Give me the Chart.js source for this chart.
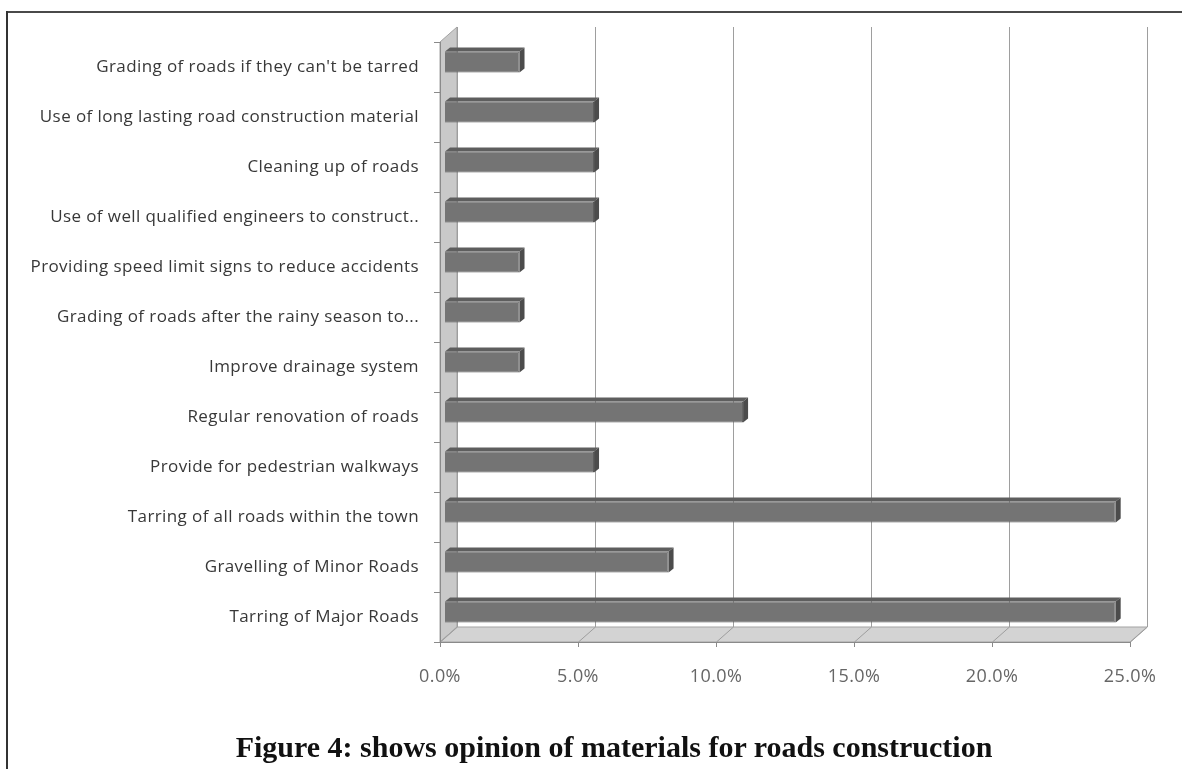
<!DOCTYPE html>
<html>
<head>
<meta charset="utf-8">
<script src="https://cdn.jsdelivr.net/npm/chart.js@4.4.0/dist/chart.umd.min.js"></script>
<style>
  html, body { margin: 0; padding: 0; background: #fff; }
  #wrap { position: relative; width: 1182px; height: 769px; overflow: hidden; background: #fff; }
  #chart { position: absolute; left: 0; top: 0; }
  .rule-top { position: absolute; left: 6px; top: 11px; width: 1176px; height: 2px; background: #4a4a4a; }
  .rule-left { position: absolute; left: 6px; top: 11px; width: 2px; height: 758px; background: #333; }
  #caption {
    position: absolute; left: 614px; top: 731px; transform: translateX(-50%);
    white-space: nowrap; font-family: "Liberation Serif", "Times New Roman", serif;
    font-weight: bold; font-size: 30px; line-height: 32px; color: #111;
  }
</style>
</head>
<body>
<div id="wrap">
  <canvas id="chart" width="1182" height="769"></canvas>
  <div class="rule-top"></div>
  <div class="rule-left"></div>
  <div id="caption">Figure 4: shows opinion of materials for roads construction</div>
</div>
<script>
// Suggestions listed from the top of the chart to the bottom
const categories = [
  "Grading of roads if they can't be tarred",
  "Use of long lasting road construction material",
  "Cleaning up of roads",
  "Use of well qualified engineers to construct..",
  "Providing speed limit signs to reduce accidents",
  "Grading of roads after the rainy season to...",
  "Improve drainage system",
  "Regular renovation of roads",
  "Provide for pedestrian walkways",
  "Tarring of all roads within the town",
  "Gravelling of Minor Roads",
  "Tarring of Major Roads"
];

// Share of respondents, in percent
const shares = [2.7, 5.4, 5.4, 5.4, 2.7, 2.7, 2.7, 10.8, 5.4, 24.3, 8.1, 24.3];

// Value axis ticks
const axisMin = 0;
const axisMax = 25;
const axisStep = 5;

// Depth of the 3-D box (back wall offset) and of the bars inside it
const DEPTH_X = 17, DEPTH_Y = -15;
const BAR_SHIFT_X = 5, BAR_SHIFT_Y = -5;
const BAR_DEPTH_X = 5, BAR_DEPTH_Y = -4;

const box3d = {
  id: 'box3d',
  beforeDraw(chart) {
    // slightly open lettering for all axis text
    chart.ctx.letterSpacing = '0.4px';
  },
  beforeDatasetsDraw(chart) {
    const { ctx, chartArea: a, scales: { x, y } } = chart;
    const x0 = x.getPixelForValue(axisMin);
    const x1 = x.getPixelForValue(axisMax);
    const top = a.top, bot = a.bottom;

    ctx.save();
    ctx.lineWidth = 1;

    // left side wall
    ctx.beginPath();
    ctx.moveTo(x0, top);
    ctx.lineTo(x0 + DEPTH_X, top + DEPTH_Y);
    ctx.lineTo(x0 + DEPTH_X, bot + DEPTH_Y);
    ctx.lineTo(x0, bot);
    ctx.closePath();
    ctx.fillStyle = '#c9c9c9';
    ctx.fill();
    ctx.strokeStyle = '#a3a3a3';
    ctx.stroke();

    // floor
    ctx.beginPath();
    ctx.moveTo(x0, bot);
    ctx.lineTo(x0 + DEPTH_X, bot + DEPTH_Y);
    ctx.lineTo(x1 + DEPTH_X, bot + DEPTH_Y);
    ctx.lineTo(x1, bot);
    ctx.closePath();
    ctx.fillStyle = '#d3d3d3';
    ctx.fill();
    ctx.stroke();

    // gridlines on the back wall, running down across the floor
    ctx.strokeStyle = '#9e9e9e';
    x.ticks.forEach(t => {
      const px = Math.round(x.getPixelForValue(t.value)) + 0.5;
      ctx.beginPath();
      ctx.moveTo(px + DEPTH_X, top + DEPTH_Y);
      ctx.lineTo(px + DEPTH_X, bot + DEPTH_Y);
      ctx.lineTo(px, bot);
      ctx.stroke();
    });

    // front edge of the floor with tick marks
    ctx.strokeStyle = '#8a8a8a';
    ctx.beginPath();
    ctx.moveTo(x0, bot + 0.5);
    ctx.lineTo(x1, bot + 0.5);
    ctx.stroke();
    x.ticks.forEach(t => {
      const px = Math.round(x.getPixelForValue(t.value)) + 0.5;
      ctx.beginPath();
      ctx.moveTo(px, bot);
      ctx.lineTo(px, bot + 5);
      ctx.stroke();
    });

    // category axis edge with boundary ticks
    ctx.beginPath();
    ctx.moveTo(x0 + 0.5, top);
    ctx.lineTo(x0 + 0.5, bot);
    ctx.stroke();
    const n = categories.length;
    for (let i = 0; i <= n; i++) {
      const py = Math.round(y.getPixelForDecimal(i / n)) + 0.5;
      ctx.beginPath();
      ctx.moveTo(x0 - 6, py);
      ctx.lineTo(x0, py);
      ctx.stroke();
    }
    ctx.restore();

    // bars sit a little inside the box
    ctx.save();
    ctx.translate(BAR_SHIFT_X, BAR_SHIFT_Y);
  },
  afterDatasetsDraw(chart) {
    const { ctx } = chart;
    const meta = chart.getDatasetMeta(0);
    meta.data.forEach(bar => {
      const { x, y, base, height } = bar.getProps(['x', 'y', 'base', 'height'], true);
      const t = y - height / 2, b = y + height / 2;
      // top face
      ctx.beginPath();
      ctx.moveTo(base, t);
      ctx.lineTo(base + BAR_DEPTH_X, t + BAR_DEPTH_Y);
      ctx.lineTo(x + BAR_DEPTH_X, t + BAR_DEPTH_Y);
      ctx.lineTo(x, t);
      ctx.closePath();
      ctx.fillStyle = '#5e5e5e';
      ctx.fill();
      // end cap
      ctx.beginPath();
      ctx.moveTo(x, t);
      ctx.lineTo(x + BAR_DEPTH_X, t + BAR_DEPTH_Y);
      ctx.lineTo(x + BAR_DEPTH_X, b + BAR_DEPTH_Y);
      ctx.lineTo(x, b);
      ctx.closePath();
      ctx.fillStyle = '#4c4c4c';
      ctx.fill();
    });
    ctx.restore();
  }
};

new Chart(document.getElementById('chart'), {
  type: 'bar',
  data: {
    labels: categories,
    datasets: [{
      data: shares,
      backgroundColor: '#747474',
      borderColor: '#575757',
      borderWidth: 1,
      barPercentage: 0.42,
      categoryPercentage: 1,
      clip: false
    }]
  },
  options: {
    indexAxis: 'y',
    responsive: false,
    animation: false,
    devicePixelRatio: 1,
    layout: { padding: { left: 0, right: 52, top: 42, bottom: 77 } },
    plugins: {
      legend: { display: false },
      tooltip: { enabled: false },
      title: { display: false }
    },
    scales: {
      x: {
        min: axisMin,
        max: axisMax,
        grid: { display: false, drawTicks: false },
        border: { display: false },
        afterFit: s => { s.height = 50; },
        ticks: {
          stepSize: axisStep,
          padding: 24,
          color: '#666',
          font: { family: 'Open Sans', size: 18 },
          callback: v => v.toFixed(1) + '%'
        }
      },
      y: {
        grid: { display: false, drawTicks: false },
        border: { display: false },
        afterFit: s => { s.width = 440; },
        ticks: {
          padding: 21,
          color: '#383838',
          autoSkip: false,
          font: { family: 'Open Sans', size: 17 }
        }
      }
    }
  },
  plugins: [box3d]
});
</script>
</body>
</html>
